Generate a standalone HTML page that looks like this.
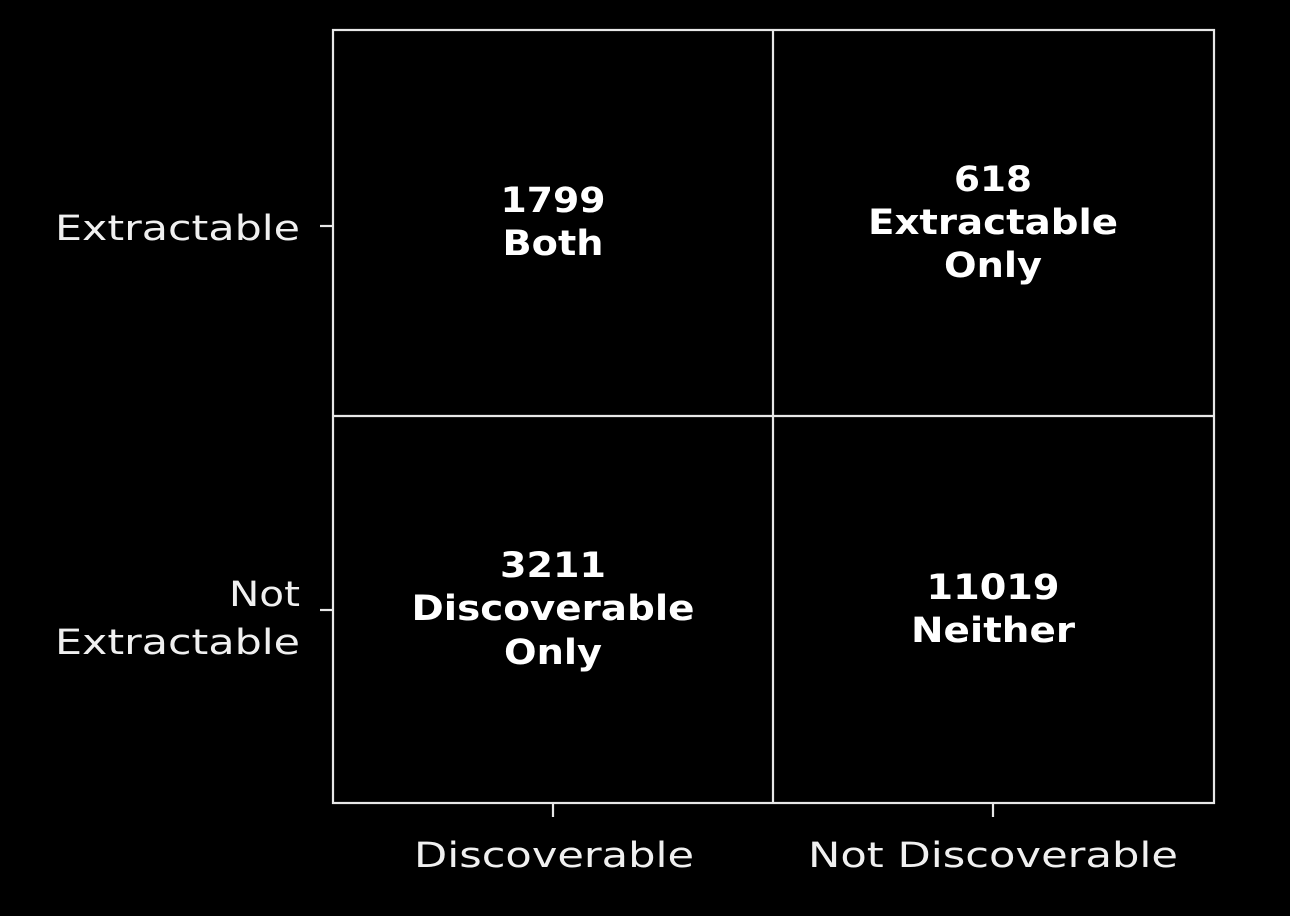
<!DOCTYPE html>
<html><head><meta charset="utf-8"><style>
html,body{margin:0;padding:0;background:#000;width:1290px;height:916px;overflow:hidden}
svg{display:block}
text{font-family:"DejaVu Sans","Liberation Sans",sans-serif;font-size:35px;fill:#f0f0f0}
.b{font-weight:bold;fill:#fff;text-anchor:middle}
</style></head><body>
<svg width="1290" height="916" viewBox="0 0 1290 916">
<g stroke="#e8e8e8" stroke-width="2.2" fill="none">
<rect x="333" y="30" width="881" height="773"/>
<line x1="773" y1="30" x2="773" y2="803"/>
<line x1="333" y1="416" x2="1214" y2="416"/>
<line x1="320" y1="226" x2="333" y2="226"/>
<line x1="320" y1="610" x2="333" y2="610"/>
<line x1="553" y1="803" x2="553" y2="817"/>
<line x1="993" y1="803" x2="993" y2="817"/>
</g>
<text class="b" x="553" y="212" textLength="105" lengthAdjust="spacingAndGlyphs">1799</text>
<text class="b" x="553" y="255" textLength="101" lengthAdjust="spacingAndGlyphs">Both</text>
<text class="b" x="993" y="191" textLength="78" lengthAdjust="spacingAndGlyphs">618</text>
<text class="b" x="993" y="234" textLength="250" lengthAdjust="spacingAndGlyphs">Extractable</text>
<text class="b" x="993" y="277" textLength="98" lengthAdjust="spacingAndGlyphs">Only</text>
<text class="b" x="553" y="577" textLength="106" lengthAdjust="spacingAndGlyphs">3211</text>
<text class="b" x="553" y="620" textLength="283" lengthAdjust="spacingAndGlyphs">Discoverable</text>
<text class="b" x="553" y="664" textLength="98" lengthAdjust="spacingAndGlyphs">Only</text>
<text class="b" x="993" y="599" textLength="133" lengthAdjust="spacingAndGlyphs">11019</text>
<text class="b" x="993" y="642" textLength="164" lengthAdjust="spacingAndGlyphs">Neither</text>
<text x="55" y="240" textLength="245" lengthAdjust="spacingAndGlyphs">Extractable</text>
<text x="229" y="606" textLength="71" lengthAdjust="spacingAndGlyphs">Not</text>
<text x="55" y="654" textLength="245" lengthAdjust="spacingAndGlyphs">Extractable</text>
<text x="414" y="867" textLength="280" lengthAdjust="spacingAndGlyphs">Discoverable</text>
<text x="808" y="867" textLength="370" lengthAdjust="spacingAndGlyphs">Not Discoverable</text>
</svg>
</body></html>
